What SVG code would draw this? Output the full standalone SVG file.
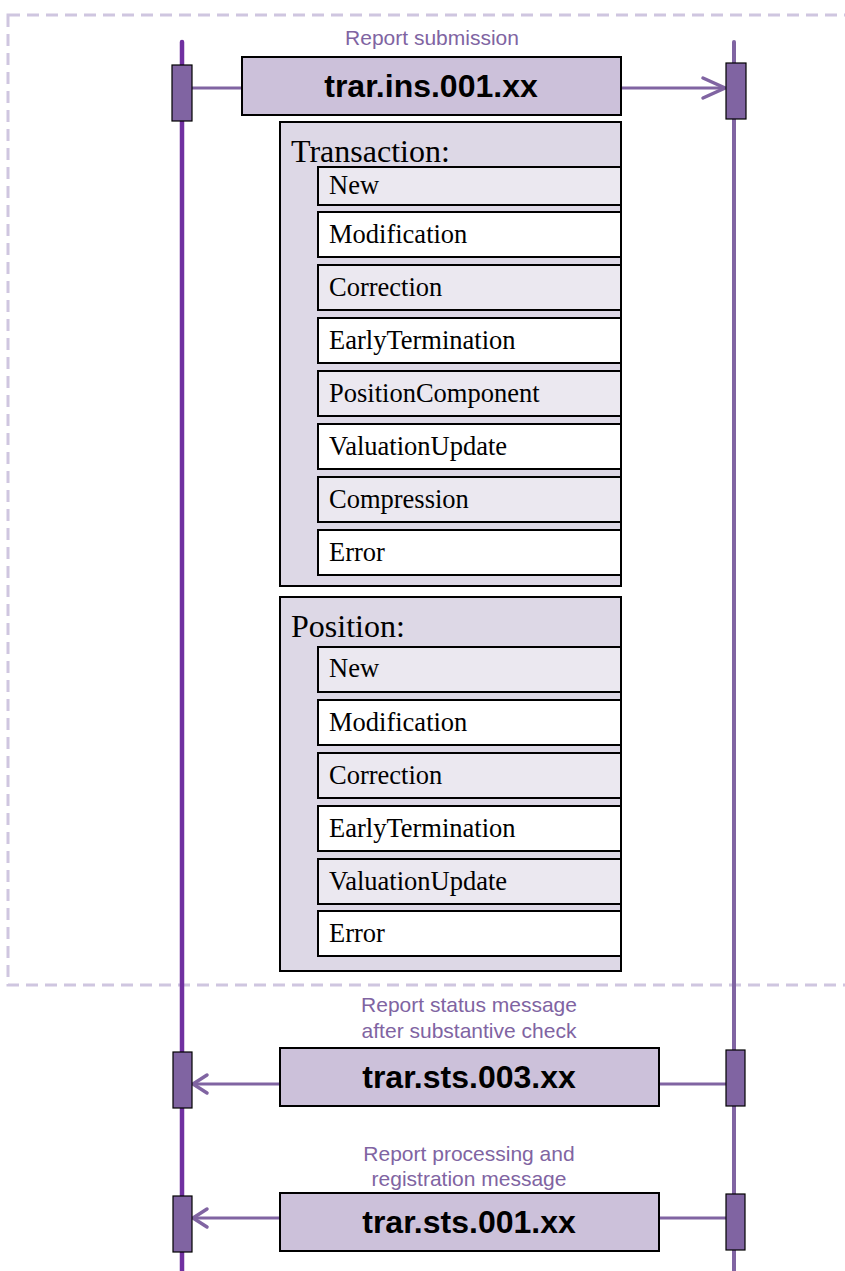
<svg xmlns="http://www.w3.org/2000/svg" width="845" height="1271" viewBox="0 0 845 1271">
<style>
.lbl{font-family:"Liberation Sans",Arial,sans-serif;font-size:21px;fill:#8064a2;text-anchor:middle}
.msg{fill:#ccc1da;stroke:#000;stroke-width:2}
.msgt{font-family:"Liberation Sans",Arial,sans-serif;font-size:32px;font-weight:bold;fill:#000;text-anchor:middle}
.act{fill:#8064a2;stroke:#000;stroke-width:1.2}
.cont{fill:#ddd8e6;stroke:#000;stroke-width:2}
.itl{fill:#ebe8f0;stroke:#000;stroke-width:2}
.itw{fill:#fff;stroke:#000;stroke-width:2}
.ttl{font-family:"Liberation Serif","Times New Roman",serif;font-size:32px;fill:#000}
.it{font-family:"Liberation Serif","Times New Roman",serif;font-size:26.5px;fill:#000}
.conn{stroke:#8064a2;stroke-width:3;fill:none}
.head{stroke:#8064a2;stroke-width:3.5;fill:none;stroke-linecap:round}
</style>
<rect width="845" height="1271" fill="#fff"/>
<rect id="frame" x="8" y="15" width="860" height="970" fill="none" stroke="#cfc6e0" stroke-width="3" stroke-dasharray="12 7"/>
<g id="lifelines">
<line x1="182" y1="42" x2="182" y2="1271" stroke="#7030a0" stroke-width="4.5" stroke-linecap="round"/>
<line x1="734" y1="42" x2="734" y2="1271" stroke="#8064a2" stroke-width="4" stroke-linecap="round"/>
</g>
<g id="connectors">
<line class="conn" x1="192" y1="88" x2="242" y2="88"/>
<line class="conn" x1="621" y1="88" x2="725" y2="88"/>
<polyline class="head" points="703,78 725,88 703,98"/>
<line class="conn" x1="280" y1="1084" x2="193" y2="1084"/>
<polyline class="head" points="207,1075 193,1084 207,1093"/>
<line class="conn" x1="659" y1="1084" x2="726" y2="1084"/>
<line class="conn" x1="280" y1="1218" x2="193" y2="1218"/>
<polyline class="head" points="207,1209 193,1218 207,1227"/>
<line class="conn" x1="659" y1="1218" x2="726" y2="1218"/>
</g>
<g id="activations">
<rect class="act" x="172" y="65" width="20" height="56"/>
<rect class="act" x="726" y="63" width="20" height="56"/>
<rect class="act" x="173" y="1052" width="19" height="56"/>
<rect class="act" x="726" y="1050" width="19" height="56"/>
<rect class="act" x="173" y="1196" width="19" height="56"/>
<rect class="act" x="726" y="1194" width="19" height="56"/>
</g>
<g id="label-submission"><text class="lbl" x="432" y="45">Report submission</text></g>
<g id="msg-ins001">
<rect class="msg" x="242" y="57" width="379" height="58"/>
<text class="msgt" x="431" y="97">trar.ins.001.xx</text>
</g>
<g id="transaction">
<rect class="cont" x="280" y="122" width="341" height="464"/>
<text class="ttl" x="291" y="162">Transaction:</text>
<rect class="itl" x="318" y="167" width="303" height="38"/><text class="it" x="329" y="194">New</text>
<rect class="itw" x="318" y="212" width="303" height="45"/><text class="it" x="329" y="243">Modification</text>
<rect class="itl" x="318" y="265" width="303" height="45"/><text class="it" x="329" y="296">Correction</text>
<rect class="itw" x="318" y="318" width="303" height="45"/><text class="it" x="329" y="349">EarlyTermination</text>
<rect class="itl" x="318" y="371" width="303" height="45"/><text class="it" x="329" y="402">PositionComponent</text>
<rect class="itw" x="318" y="424" width="303" height="45"/><text class="it" x="329" y="455">ValuationUpdate</text>
<rect class="itl" x="318" y="477" width="303" height="45"/><text class="it" x="329" y="508">Compression</text>
<rect class="itw" x="318" y="530" width="303" height="45"/><text class="it" x="329" y="561">Error</text>
</g>
<g id="position">
<rect class="cont" x="280" y="597" width="341" height="374"/>
<text class="ttl" x="291" y="637">Position:</text>
<rect class="itl" x="318" y="647" width="303" height="45"/><text class="it" x="329" y="677">New</text>
<rect class="itw" x="318" y="700" width="303" height="45"/><text class="it" x="329" y="731">Modification</text>
<rect class="itl" x="318" y="753" width="303" height="45"/><text class="it" x="329" y="784">Correction</text>
<rect class="itw" x="318" y="806" width="303" height="45"/><text class="it" x="329" y="837">EarlyTermination</text>
<rect class="itl" x="318" y="859" width="303" height="45"/><text class="it" x="329" y="890">ValuationUpdate</text>
<rect class="itw" x="318" y="911" width="303" height="45"/><text class="it" x="329" y="942">Error</text>
</g>
<g id="label-status"><text class="lbl" x="469" y="1012">Report status message</text><text class="lbl" x="469" y="1038">after substantive check</text></g>
<g id="msg-sts003">
<rect class="msg" x="280" y="1048" width="379" height="58"/>
<text class="msgt" x="469" y="1088">trar.sts.003.xx</text>
</g>
<g id="label-processing"><text class="lbl" x="469" y="1161">Report processing and</text><text class="lbl" x="469" y="1186">registration message</text></g>
<g id="msg-sts001">
<rect class="msg" x="280" y="1193" width="379" height="58"/>
<text class="msgt" x="469" y="1233">trar.sts.001.xx</text>
</g>
</svg>
